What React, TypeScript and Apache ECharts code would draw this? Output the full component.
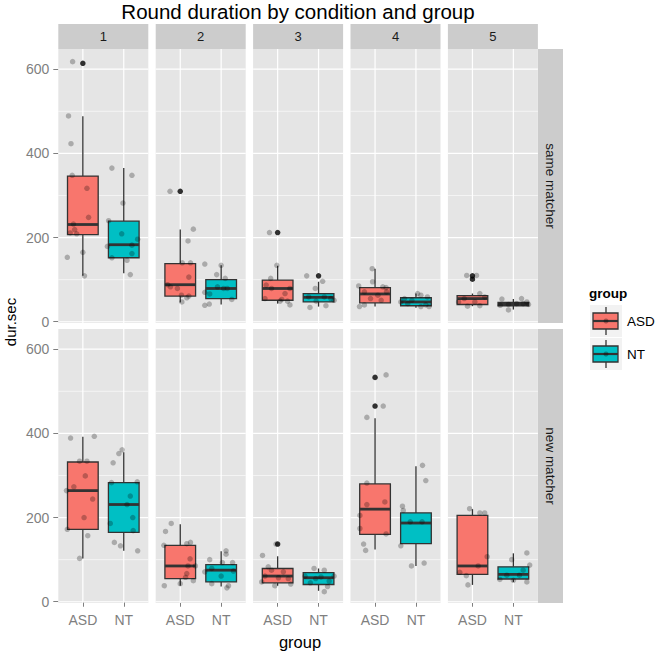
import React, { useEffect, useRef } from "react";
import * as echarts from "echarts";

const TITLE = "Round duration by condition and group";
const GROUPS = ["ASD", "NT"];
const SESSIONS = ["1", "2", "3", "4", "5"];
const CONDITIONS = ["same matcher", "new matcher"];
const Y_TICKS = [0, 200, 400, 600];
const Y_MINOR = [100, 300, 500];
const FILLS = ["#F8766D", "#00BFC4"];

// box stats per session: [lower whisker, q1, median, q3, upper whisker]
const BOX_SAME_ASD = [[109, 207, 231, 346, 488], [46, 61, 88, 138, 219], [43, 51, 79, 99, 133], [36, 45, 66, 81, 126], [37, 41, 55, 62, 67]];
const BOX_SAME_NT = [[115, 152, 183, 239, 365], [41, 55, 79, 100, 134], [36, 47, 58, 67, 95], [33, 38, 47, 57, 67], [29, 38, 42, 46, 54]];
const BOX_NEW_ASD = [[103, 172, 264, 332, 392], [38, 55, 85, 134, 184], [38, 45, 61, 79, 108], [124, 160, 220, 280, 436], [40, 65, 85, 205, 220]];
const BOX_NEW_NT = [[121, 165, 231, 283, 355], [36, 47, 75, 88, 120], [26, 41, 57, 69, 79], [85, 138, 187, 211, 322], [47, 54, 65, 83, 115]];

// outliers per session
const OUT_SAME_ASD = [[614], [310], [212], [], [109, 101]];
const OUT_SAME_NT = [[], [], [109], [], []];
const OUT_NEW_ASD = [[], [], [137], [533, 465], []];
const OUT_NEW_NT = [[], [], [], [], []];

// jittered observations per session: [horizontal jitter, dur.sec]
const PTS_SAME_ASD = [
  [[-0.25, 618], [-0.35, 489], [-0.29, 423], [-0.26, 348], [0.1, 317], [0.14, 248], [-0.23, 232], [-0.2, 219], [-0.15, 209], [-0.31, 211], [-0.38, 153], [0, 165], [0.04, 109]],
  [[-0.25, 310], [0.32, 220], [0.19, 192], [0.05, 140], [0.25, 140], [0.21, 106], [-0.31, 88], [-0.24, 83], [-0.07, 79], [0.03, 63], [0.21, 61], [0.16, 57], [0.04, 47]],
  [[-0.2, 212], [-0.02, 134], [-0.17, 103], [-0.28, 87], [-0.15, 79], [0.3, 79], [0.18, 67], [0.1, 53], [0.24, 49], [0.3, 40], [-0.31, 55], [0.06, 49]],
  [[-0.07, 126], [-0.4, 85], [-0.06, 95], [-0.26, 71], [0.19, 83], [0.27, 81], [0.28, 71], [0.07, 63], [-0.11, 55], [-0.26, 40], [-0.38, 36], [0.15, 51]],
  [[-0.14, 110], [0.1, 110], [0.18, 67], [0.3, 59], [-0.2, 55], [-0.34, 47], [-0.12, 37], [0.18, 38], [0.06, 47]],
];
const PTS_SAME_NT = [
  [[-0.29, 365], [0.2, 348], [-0.02, 282], [-0.37, 240], [-0.05, 209], [0.34, 196], [0.2, 182], [-0.4, 179], [0.2, 162], [-0.29, 152], [0.08, 146], [0.16, 112]],
  [[-0.4, 137], [0, 134], [-0.11, 112], [0.1, 103], [-0.09, 83], [0.06, 79], [0.15, 79], [-0.4, 70], [-0.28, 66], [0.26, 53], [-0.4, 39], [-0.29, 42]],
  [[-0.29, 109], [0.1, 96], [-0.08, 79], [-0.24, 59], [0.14, 59], [0.3, 55], [0.38, 51], [-0.06, 49], [0.18, 38], [-0.21, 34]],
  [[0.04, 67], [0.12, 63], [0.28, 59], [-0.28, 55], [-0.1, 51], [-0.2, 43], [0.24, 40], [0.32, 36], [0.12, 36], [-0.37, 47]],
  [[-0.28, 54], [0.2, 55], [0.33, 47], [-0.12, 28], [-0.12, 41], [0.08, 43], [0.37, 41], [-0.32, 39], [0.24, 43]],
];
const PTS_NEW_ASD = [
  [[-0.3, 389], [0.28, 393], [-0.08, 334], [0.1, 334], [0.06, 299], [-0.22, 273], [-0.4, 264], [0.24, 244], [0.03, 200], [-0.38, 172], [0.12, 157], [-0.08, 103]],
  [[-0.22, 186], [-0.36, 167], [-0.4, 134], [0.16, 138], [0.25, 141], [0.24, 102], [0.19, 85], [0.37, 85], [0.16, 67], [0.13, 58], [0.32, 50], [0, 43], [-0.39, 38]],
  [[-0.37, 110], [-0.23, 83], [-0.15, 75], [0.14, 71], [-0.31, 61], [0.02, 57], [0.26, 55], [-0.39, 47], [-0.07, 38], [0.32, 42], [-0.04, 137]],
  [[0.27, 539], [0.2, 465], [-0.2, 438], [-0.2, 282], [0.24, 237], [-0.2, 231], [-0.37, 205], [-0.37, 174], [0.27, 161], [-0.28, 137], [-0.23, 122]],
  [[-0.07, 221], [0.18, 211], [0.3, 211], [0.36, 107], [0.14, 85], [-0.31, 70], [-0.15, 62], [-0.11, 40]],
];
const PTS_NEW_NT = [
  [[-0.04, 361], [-0.12, 352], [-0.26, 330], [-0.3, 283], [0.33, 285], [0.16, 251], [0.08, 231], [0.22, 200], [-0.33, 186], [0.23, 169], [-0.23, 141], [-0.08, 133], [0.34, 121]],
  [[0.12, 121], [-0.28, 100], [0.12, 113], [0.03, 93], [0.28, 93], [-0.4, 71], [-0.23, 79], [0, 61], [-0.23, 43], [0.14, 33], [0.18, 38], [0.3, 73]],
  [[-0.11, 79], [0.14, 75], [-0.33, 61], [0.06, 59], [0.38, 61], [-0.07, 55], [0.26, 49], [-0.2, 45], [0.22, 36], [0.14, 24]],
  [[0.16, 324], [0.24, 288], [-0.33, 227], [-0.31, 217], [-0.14, 190], [0.15, 190], [-0.37, 133], [-0.11, 85], [0.2, 92]],
  [[0.33, 116], [-0.04, 100], [0.4, 87], [0.24, 75], [-0.16, 63], [-0.33, 53], [0, 51], [0.33, 47], [0.15, 63]],
];

const BOXES = [[BOX_SAME_ASD, BOX_SAME_NT], [BOX_NEW_ASD, BOX_NEW_NT]];
const OUTS = [[OUT_SAME_ASD, OUT_SAME_NT], [OUT_NEW_ASD, OUT_NEW_NT]];
const PTS = [[PTS_SAME_ASD, PTS_SAME_NT], [PTS_NEW_ASD, PTS_NEW_NT]];

const FONT = "'Liberation Sans', Arial, sans-serif";
const X_MIN = 0.4;
const X_MAX = 2.6;
const Y_MIN = -3;
const Y_MAX = 648;
const BOX_HALF = 0.375;
const PANEL_LEFT0 = 58.3;
const PANEL_STEP = 97.4;
const PANEL_W = 90;
const ROW_TOP = [49, 329];
const PANEL_H = 274;
const STRIP_TOP = 24;
const STRIP_RIGHT_X = 538;
const STRIP_W = 25;

function renderGridLine(params: any, api: any) {
  const kind = api.value(0);
  const v = api.value(1);
  const major = api.value(2);
  let a, b;
  if (kind === 0) {
    a = api.coord([X_MIN, v]);
    b = api.coord([X_MAX, v]);
  } else {
    a = api.coord([v, Y_MIN]);
    b = api.coord([v, Y_MAX]);
  }
  return {
    type: "line",
    shape: { x1: a[0], y1: a[1], x2: b[0], y2: b[1] },
    style: { stroke: "#ffffff", lineWidth: major ? 1.2 : 0.6 },
  };
}

function renderBox(params: any, api: any) {
  const x = api.value(0);
  const lo = api.value(1);
  const q1 = api.value(2);
  const med = api.value(3);
  const q3 = api.value(4);
  const hi = api.value(5);
  const pLo = api.coord([x, lo]);
  const pQ1 = api.coord([x, q1]);
  const pQ3 = api.coord([x, q3]);
  const pHi = api.coord([x, hi]);
  const tl = api.coord([x - BOX_HALF, q3]);
  const br = api.coord([x + BOX_HALF, q1]);
  const mL = api.coord([x - BOX_HALF, med]);
  const mR = api.coord([x + BOX_HALF, med]);
  const stroke = "#333333";
  return {
    type: "group",
    children: [
      { type: "line", shape: { x1: pLo[0], y1: pLo[1], x2: pQ1[0], y2: pQ1[1] }, style: { stroke, lineWidth: 1.3 } },
      { type: "line", shape: { x1: pQ3[0], y1: pQ3[1], x2: pHi[0], y2: pHi[1] }, style: { stroke, lineWidth: 1.3 } },
      {
        type: "rect",
        shape: { x: tl[0], y: tl[1], width: br[0] - tl[0], height: br[1] - tl[1] },
        style: { fill: FILLS[params.dataIndex], stroke, lineWidth: 1.3 },
      },
      { type: "line", shape: { x1: mL[0], y1: mL[1], x2: mR[0], y2: mR[1] }, style: { stroke, lineWidth: 2.8 } },
    ],
  };
}

function buildOption() {
  const grid: any[] = [];
  const xAxis: any[] = [];
  const yAxis: any[] = [];
  const series: any[] = [];
  const graphic: any[] = [];

  CONDITIONS.forEach((cond, r) => {
    SESSIONS.forEach((sess, c) => {
      const gi = r * SESSIONS.length + c;
      grid.push({
        left: PANEL_LEFT0 + c * PANEL_STEP,
        top: ROW_TOP[r],
        width: PANEL_W,
        height: PANEL_H,
        show: true,
        backgroundColor: "#E5E5E5",
        borderWidth: 0,
      });
      const bottomRow = r === CONDITIONS.length - 1;
      xAxis.push({
        type: "value",
        gridIndex: gi,
        min: X_MIN,
        max: X_MAX,
        axisLine: { show: false },
        splitLine: { show: false },
        axisTick: {
          show: bottomRow,
          customValues: [1, 2],
          length: 5,
          lineStyle: { color: "#7F7F7F", width: 1 },
        },
        axisLabel: {
          show: bottomRow,
          customValues: [1, 2],
          margin: 10,
          color: "#7F7F7F",
          fontSize: 14,
          fontFamily: FONT,
          formatter: (v: number) => (Math.abs(v - Math.round(v)) < 1e-6 && GROUPS[Math.round(v) - 1]) || "",
        },
      });
      yAxis.push({
        type: "value",
        gridIndex: gi,
        min: Y_MIN,
        max: Y_MAX,
        axisLine: { show: false },
        splitLine: { show: false },
        axisTick: {
          show: c === 0,
          customValues: Y_TICKS,
          length: 5,
          lineStyle: { color: "#7F7F7F", width: 1 },
        },
        axisLabel: {
          show: c === 0,
          customValues: Y_TICKS,
          margin: 9,
          color: "#7F7F7F",
          fontSize: 14,
          fontFamily: FONT,
          formatter: (v: number) => (Y_TICKS.indexOf(v) >= 0 ? String(v) : ""),
        },
      });

      const lines: any[] = [];
      Y_TICKS.forEach((v) => lines.push([0, v, 1]));
      Y_MINOR.forEach((v) => lines.push([0, v, 0]));
      GROUPS.forEach((g, k) => lines.push([1, k + 1, 1]));
      series.push({
        type: "custom",
        xAxisIndex: gi,
        yAxisIndex: gi,
        silent: true,
        z: 1,
        renderItem: renderGridLine,
        data: lines,
      });

      series.push({
        type: "custom",
        xAxisIndex: gi,
        yAxisIndex: gi,
        silent: true,
        z: 2,
        renderItem: renderBox,
        encode: { x: 0, y: [1, 2, 3, 4, 5] },
        data: GROUPS.map((g, k) => [k + 1, ...BOXES[r][k][c]]),
      });

      const outs: any[] = [];
      GROUPS.forEach((g, k) => OUTS[r][k][c].forEach((v: number) => outs.push([k + 1, v])));
      series.push({
        type: "scatter",
        xAxisIndex: gi,
        yAxisIndex: gi,
        silent: true,
        z: 3,
        symbolSize: 5.5,
        itemStyle: { color: "#000000" },
        data: outs,
      });

      const pts: any[] = [];
      GROUPS.forEach((g, k) => PTS[r][k][c].forEach((p: number[]) => pts.push([k + 1 + p[0], p[1]])));
      series.push({
        type: "scatter",
        xAxisIndex: gi,
        yAxisIndex: gi,
        silent: true,
        z: 4,
        symbolSize: 5.5,
        itemStyle: { color: "rgba(0,0,0,0.32)" },
        data: pts,
      });
    });
  });

  // title
  graphic.push({
    type: "text",
    x: 298,
    y: 11,
    style: { text: TITLE, fill: "#000000", font: `20.5px ${FONT}`, align: "center", verticalAlign: "middle" },
  });

  // top strips
  SESSIONS.forEach((s, c) => {
    const left = PANEL_LEFT0 + c * PANEL_STEP;
    graphic.push({
      type: "rect",
      shape: { x: left, y: STRIP_TOP, width: PANEL_W, height: ROW_TOP[0] - STRIP_TOP },
      style: { fill: "#CCCCCC" },
    });
    graphic.push({
      type: "text",
      x: left + PANEL_W / 2,
      y: (STRIP_TOP + ROW_TOP[0]) / 2,
      style: { text: s, fill: "#1A1A1A", font: `13px ${FONT}`, align: "center", verticalAlign: "middle" },
    });
  });

  // right strips
  CONDITIONS.forEach((cond, r) => {
    graphic.push({
      type: "rect",
      shape: { x: STRIP_RIGHT_X, y: ROW_TOP[r], width: STRIP_W, height: PANEL_H },
      style: { fill: "#CCCCCC" },
    });
    graphic.push({
      type: "text",
      x: STRIP_RIGHT_X + STRIP_W / 2,
      y: ROW_TOP[r] + PANEL_H / 2,
      rotation: -Math.PI / 2,
      style: { text: cond, fill: "#1A1A1A", font: `13.5px ${FONT}`, align: "center", verticalAlign: "middle" },
    });
  });

  // axis titles
  graphic.push({
    type: "text",
    x: 10,
    y: 322,
    rotation: Math.PI / 2,
    style: { text: "dur.sec", fill: "#000000", font: `15px ${FONT}`, align: "center", verticalAlign: "middle" },
  });
  graphic.push({
    type: "text",
    x: 300,
    y: 642,
    style: { text: "group", fill: "#000000", font: `16.5px ${FONT}`, align: "center", verticalAlign: "middle" },
  });

  // legend
  graphic.push({
    type: "text",
    x: 589,
    y: 293,
    style: { text: "group", fill: "#000000", font: `bold 13.5px ${FONT}`, align: "left", verticalAlign: "middle" },
  });
  GROUPS.forEach((g, k) => {
    const top = 305 + k * 33;
    const cx = 606;
    const cy = top + 16;
    graphic.push({ type: "rect", shape: { x: 590, y: top, width: 32, height: 32 }, style: { fill: "#F2F2F2" } });
    graphic.push({ type: "line", shape: { x1: cx, y1: top + 2, x2: cx, y2: top + 30 }, style: { stroke: "#333333", lineWidth: 1.3 } });
    graphic.push({
      type: "rect",
      shape: { x: 593, y: cy - 8, width: 25, height: 16 },
      style: { fill: FILLS[k], stroke: "#333333", lineWidth: 1.3 },
    });
    graphic.push({ type: "line", shape: { x1: 593, y1: cy, x2: 618, y2: cy }, style: { stroke: "#333333", lineWidth: 2.2 } });
    graphic.push({ type: "circle", shape: { cx, cy, r: 2.5 }, style: { fill: "rgba(0,0,0,0.3)" } });
    graphic.push({
      type: "text",
      x: 627,
      y: cy,
      style: { text: g, fill: "#000000", font: `13.5px ${FONT}`, align: "left", verticalAlign: "middle" },
    });
  });

  return {
    animation: false,
    backgroundColor: "#ffffff",
    textStyle: { fontFamily: FONT },
    grid,
    xAxis,
    yAxis,
    series,
    graphic,
  };
}

export default function App() {
  const ref = useRef<HTMLDivElement>(null);
  useEffect(() => {
    document.body.style.margin = "0";
    if (!ref.current) return;
    const chart = echarts.init(ref.current, null, { renderer: "svg" });
    chart.setOption(buildOption() as any);
    return () => {
      chart.dispose();
    };
  }, []);
  return <div ref={ref} style={{ width: 660, height: 655 }} />;
}
